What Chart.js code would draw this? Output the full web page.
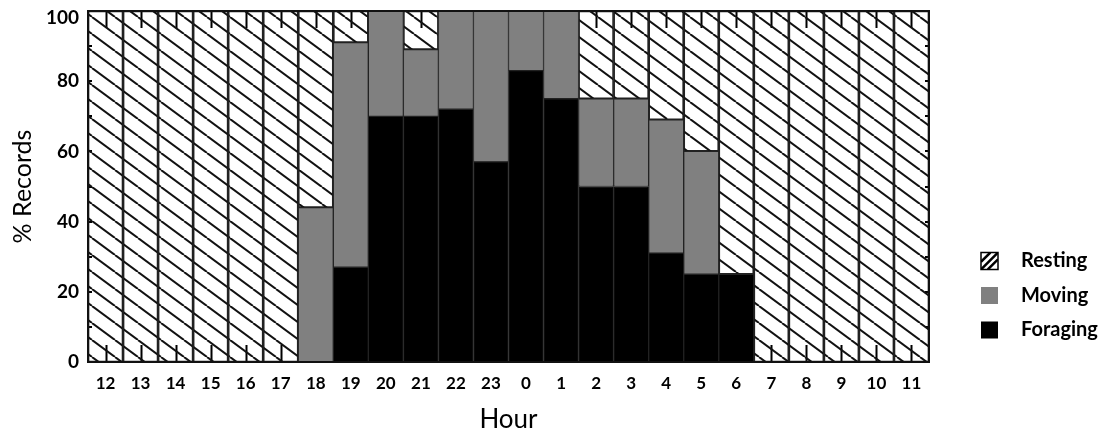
<!DOCTYPE html>
<html>
<head>
<meta charset="utf-8">
<script src="https://cdn.jsdelivr.net/npm/chart.js@4.4.1/dist/chart.umd.min.js"></script>
<style>
  html, body { margin: 0; padding: 0; background: #fff; }
  #wrap { width: 1115px; height: 434px; position: relative; }
</style>
</head>
<body>
<div id="wrap"><canvas id="activityChart"></canvas></div>
<script>
// --- data ---
const hours    = ['12','13','14','15','16','17','18','19','20','21','22','23','0','1','2','3','4','5','6','7','8','9','10','11'];
const foraging = [0, 0, 0, 0, 0, 0, 0, 27, 70, 70, 72, 57, 83, 75, 50, 50, 31, 25, 25, 0, 0, 0, 0, 0];
const moving   = [0, 0, 0, 0, 0, 0, 44, 64, 30, 19, 28, 43, 17, 25, 25, 25, 38, 35, 0, 0, 0, 0, 0, 0];
const resting  = [100, 100, 100, 100, 100, 100, 56, 9, 0, 11, 0, 0, 0, 0, 25, 25, 31, 40, 75, 100, 100, 100, 100, 100];
const yTicks   = [0, 20, 40, 60, 80, 100];

const FONT = "Lato, 'Open Sans', sans-serif";

// hachures "\" transparentes
function makeHatch() {
    const W = 23, H = 17;
    const c = document.createElement('canvas');
    c.width = W; c.height = H;
    const g = c.getContext('2d');
    g.strokeStyle = '#111';
    g.lineWidth = 2;
    for (const k of [-1, 0, 1]) {
        g.beginPath();
        g.moveTo(k * W, 0);
        g.lineTo((k + 1) * W, H);
        g.stroke();
    }
    return g.createPattern(c, 'repeat');
}

// ticks intérieurs + cadre
const innerTicks = {
    id: 'innerTicks',
    beforeDatasetsDraw(chart) {
        const { ctx, chartArea: a, scales: { x, y } } = chart;
        ctx.save();
        ctx.strokeStyle = '#000';
        ctx.lineWidth = 2;
        ctx.beginPath();
        for (let i = 0; i < hours.length; i++) {
            const px = Math.round(x.getPixelForValue(i)) + 0.5;
            ctx.moveTo(px, a.bottom); ctx.lineTo(px, a.bottom - 17);
            ctx.moveTo(px, a.top);    ctx.lineTo(px, a.top + 17);
        }
        for (let v = 10; v < 100; v += 10) {
            const py = Math.round(y.getPixelForValue(v));
            ctx.moveTo(a.left, py);  ctx.lineTo(a.left + 4, py);
            ctx.moveTo(a.right, py); ctx.lineTo(a.right - 4, py);
        }
        ctx.stroke();
        ctx.restore();
    },
    afterDatasetsDraw(chart) {
        const { ctx, chartArea: a } = chart;
        ctx.save();
        ctx.strokeStyle = '#111';
        ctx.lineWidth = 2;
        ctx.strokeRect(a.left, a.top, a.right - a.left, a.bottom - a.top);
        ctx.restore();
    }
};

// légende dessinée à droite
const sideLegend = {
    id: 'sideLegend',
    afterDraw(chart) {
        const { ctx } = chart;
        const items = chart.data.datasets.slice().reverse();
        const bx = 981, size = 17, tx = 1021;
        let cy = 261;
        ctx.save();
        ctx.font = `bold 20px ${FONT}`;
        ctx.textBaseline = 'middle';
        ctx.fillStyle = '#000';
        items.forEach(ds => {
            const top = cy - size / 2;
            if (ds.label === 'Resting') {
                ctx.fillStyle = '#fff';
                ctx.fillRect(bx, top, size, size);
                ctx.strokeStyle = '#000';
                ctx.lineWidth = 1.5;
                ctx.strokeRect(bx, top, size, size);
                ctx.save();
                ctx.beginPath();
                ctx.rect(bx, top, size, size);
                ctx.clip();
                ctx.lineWidth = 2.5;
                ctx.beginPath();
                ctx.moveTo(bx, top + size * 0.55); ctx.lineTo(bx + size * 0.55, top);
                ctx.moveTo(bx + size * 0.4, top + size); ctx.lineTo(bx + size, top + size * 0.4);
                ctx.moveTo(bx, top + size); ctx.lineTo(bx + size, top);
                ctx.stroke();
                ctx.restore();
            } else {
                ctx.fillStyle = ds.backgroundColor;
                ctx.fillRect(bx, top, size, size);
            }
            ctx.fillStyle = '#000';
            ctx.fillText(ds.label, tx, cy);
            cy += 34.5;
        });
        ctx.restore();
    }
};

// « 100 » un peu sous le haut du cadre, comme l'original
const nudgeTop = {
    id: 'nudgeTop',
    beforeDraw(chart) {
        const items = chart.scales.y.getLabelItems(chart.chartArea);
        if (!items) return;
        items.forEach(it => {
            if (it.label === '100' && !it._nudged) {
                it.options.translation[1] += 7;
                it._nudged = true;
            }
        });
    }
};

const border = '#222';

new Chart(document.getElementById('activityChart'), {
    type: 'bar',
    data: {
        labels: hours,
        datasets: [
            { label: 'Foraging', data: foraging, backgroundColor: '#000', borderColor: border, borderWidth: 1, borderSkipped: false },
            { label: 'Moving',   data: moving,   backgroundColor: '#808080', borderColor: border, borderWidth: 1, borderSkipped: false },
            { label: 'Resting',  data: resting,  backgroundColor: makeHatch(), borderColor: border, borderWidth: 1, borderSkipped: false }
        ]
    },
    options: {
        responsive: true,
        maintainAspectRatio: false,
        animation: false,
        barPercentage: 1,
        categoryPercentage: 1,
        layout: { padding: { top: 11, right: 186, left: 0, bottom: 0 } },
        scales: {
            x: {
                stacked: true,
                grid: { display: false, drawTicks: false },
                border: { display: false },
                ticks: { color: '#000', padding: 11, maxRotation: 0, autoSkip: false, font: { family: FONT, size: 17, weight: 'bold' } },
                title: { display: true, text: 'Hour', color: '#000', padding: { top: 0, bottom: 1 }, font: { family: FONT, size: 26, lineHeight: 1 } },
                afterFit: s => { s.height = 72; s.paddingLeft = 0; s.paddingRight = 0; }
            },
            y: {
                stacked: true,
                min: 0, max: 100,
                grid: { display: false, drawTicks: false },
                border: { display: false },
                afterBuildTicks: s => { s.ticks = yTicks.map(v => ({ value: v })); },
                ticks: { color: '#000', padding: 9, font: { family: FONT, size: 19, weight: 'bold' } },
                title: { display: true, text: '% Records', color: '#000', padding: { top: 10, bottom: 0 }, font: { family: FONT, size: 25, lineHeight: 1 } },
                afterFit: s => { s.width = 88; s.paddingTop = 0; s.paddingBottom = 0; }
            }
        },
        plugins: {
            legend: { display: false },
            tooltip: { enabled: false }
        }
    },
    plugins: [innerTicks, sideLegend, nudgeTop]
});
</script>
</body>
</html>
